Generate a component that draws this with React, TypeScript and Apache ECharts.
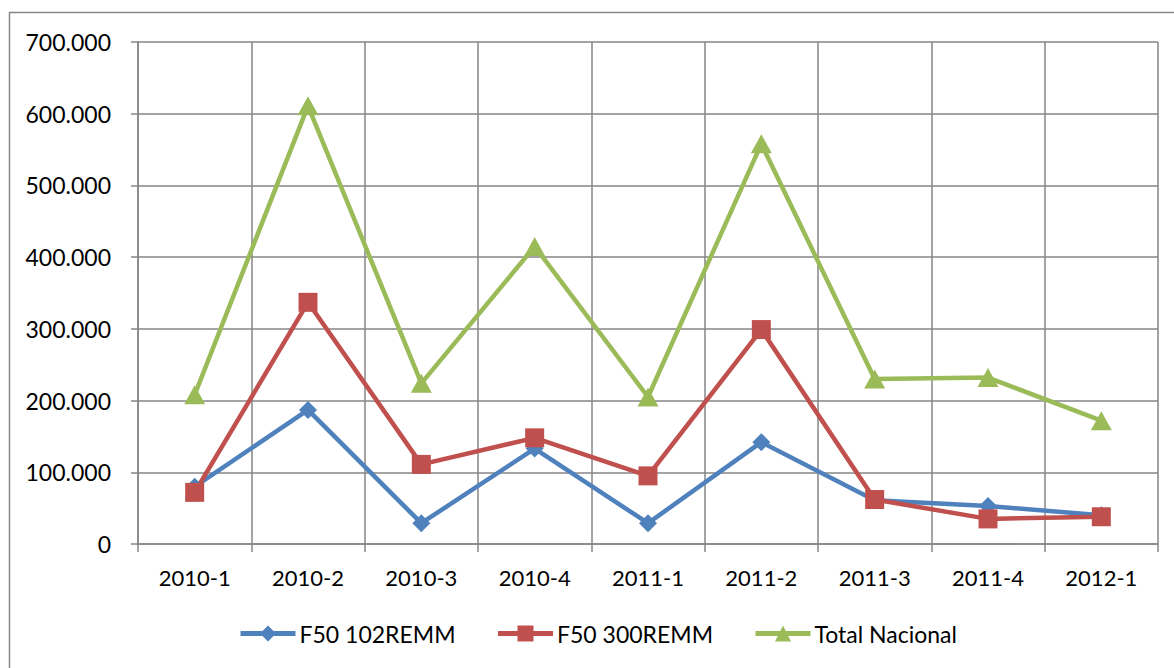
import React, { useEffect, useRef } from "react";
import * as echarts from "echarts";

const categories = ["2010-1", "2010-2", "2010-3", "2010-4", "2011-1", "2011-2", "2011-3", "2011-4", "2012-1"];
const f50_102 = [80000, 187000, 29000, 133000, 29000, 142000, 61000, 53000, 40000];
const f50_300 = [72000, 337000, 111000, 148000, 95000, 299000, 62000, 35000, 38000];
const totalNacional = [208000, 611000, 224000, 415000, 205000, 558000, 230000, 232000, 172000];
const seriesNames = ["F50 102REMM", "F50 300REMM", "Total Nacional"];

const FONT = "Lato, 'Open Sans', sans-serif";
const GRID = "#868686";

function fmt(v: number) {
  if (v === 0) return "0";
  const s = String(Math.round(v));
  return s.replace(/\B(?=(\d{3})+(?!\d))/g, ".");
}

export default function App() {
  const ref = useRef<HTMLDivElement>(null);
  useEffect(() => {
    if (!ref.current) return;
    const chart = echarts.init(ref.current, undefined, { renderer: "svg" });
    chart.setOption({
      animation: false,
      backgroundColor: "#ffffff",
      graphic: [
        {
          type: "rect",
          shape: { x: 9.5, y: 12.5, width: 1200, height: 700 },
          style: { fill: "none", stroke: GRID, lineWidth: 1.5 },
          silent: true,
        },
      ],
      grid: { left: 138, top: 42, right: 16, bottom: 124, containLabel: false },
      legend: {
        data: seriesNames,
        left: 238,
        top: 622,
        padding: 0,
        itemWidth: 55,
        itemHeight: 20,
        itemGap: 40,
        lineStyle: { width: 5 },
        textStyle: { fontFamily: FONT, fontSize: 23, color: "#000", padding: [0, 0, 0, -1] },
      },
      xAxis: {
        type: "category",
        data: categories,
        boundaryGap: true,
        axisLine: { show: true, lineStyle: { color: GRID, width: 1.5 } },
        axisTick: { show: true, length: 8, interval: 0, lineStyle: { color: GRID, width: 1.5 } },
        axisLabel: { interval: 0, margin: 22, fontFamily: FONT, fontSize: 22, color: "#000" },
        splitLine: { show: true, interval: 0, lineStyle: { color: GRID, width: 1.5 } },
      },
      yAxis: {
        type: "value",
        min: 0,
        max: 700000,
        interval: 100000,
        axisLine: { show: true, lineStyle: { color: GRID, width: 1.5 } },
        axisTick: { show: true, length: 7, lineStyle: { color: GRID, width: 1.5 } },
        axisLabel: { margin: 27, fontFamily: FONT, fontSize: 23, color: "#000", formatter: (v: number) => fmt(v) },
        splitLine: { show: true, lineStyle: { color: GRID, width: 1.5 } },
      },
      series: [
        {
          name: seriesNames[0],
          type: "line",
          data: f50_102,
          symbol: "diamond",
          symbolSize: 18,
          lineStyle: { color: "#4F81BD", width: 4.5 },
          itemStyle: { color: "#4F81BD" },
        },
        {
          name: seriesNames[1],
          type: "line",
          data: f50_300,
          symbol: "rect",
          symbolSize: 19,
          lineStyle: { color: "#C0504D", width: 4.5 },
          itemStyle: { color: "#C0504D" },
        },
        {
          name: seriesNames[2],
          type: "line",
          data: totalNacional,
          symbol: "triangle",
          symbolSize: [21, 19],
          lineStyle: { color: "#9BBB59", width: 4.5 },
          itemStyle: { color: "#9BBB59" },
        },
      ],
    });
    return () => chart.dispose();
  }, []);
  return <div ref={ref} style={{ position: "fixed", left: 0, top: 0, width: 1174, height: 668 }} />;
}
